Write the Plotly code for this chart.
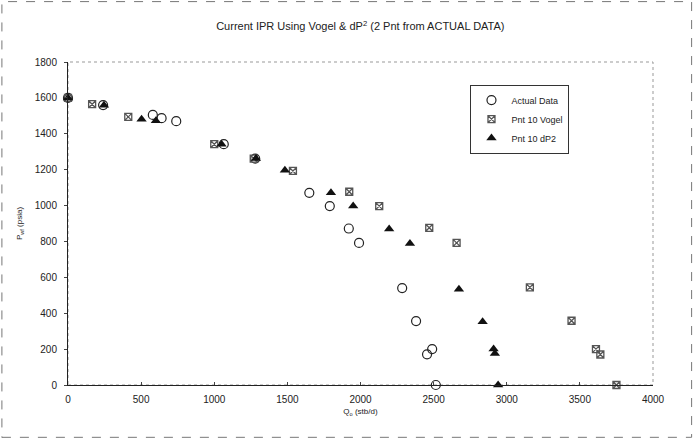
import plotly.graph_objects as go

# Actual data (circles)
actual_q = [0, 240, 580, 640, 740, 1065, 1280, 1650, 1790, 1920, 1990, 2285, 2380, 2455, 2490, 2515]
actual_p = [1600, 1560, 1505, 1487, 1470, 1342, 1262, 1071, 997, 872, 792, 540, 356, 171, 200, 0]

# Pnt 10 Vogel (squares)
vogel_q = [0, 165, 412, 1000, 1270, 1538, 1923, 2128, 2470, 2657, 3158, 3443, 3610, 3640, 3750]
vogel_p = [1600, 1565, 1494, 1342, 1262, 1193, 1077, 997, 876, 792, 544, 358, 200, 170, 0]

# Pnt 10 dP2 (triangles)
dp2_q = [0, 246, 503, 601, 1050, 1285, 1483, 1798, 1950, 2196, 2338, 2673, 2835, 2910, 2919, 2941]
dp2_p = [1600, 1559, 1481, 1472, 1342, 1262, 1197, 1071, 997, 869, 789, 534, 352, 200, 175, 0]

x_ticks = [0, 500, 1000, 1500, 2000, 2500, 3000, 3500, 4000]
y_ticks = [0, 200, 400, 600, 800, 1000, 1200, 1400, 1600, 1800]

FONT = "Liberation Sans Narrow, Arial Narrow, Liberation Sans, Arial, sans-serif"

fig = go.Figure()
fig.add_trace(go.Scatter(
    x=actual_q, y=actual_p, mode="markers", name="Actual Data",
    marker=dict(symbol="circle-open", size=9, color="#222", line=dict(width=1.2)),
    cliponaxis=False))
fig.add_trace(go.Scatter(
    x=vogel_q, y=vogel_p, mode="markers", name="Pnt 10 Vogel",
    marker=dict(symbol="square-x-open", size=7, color="#555", line=dict(width=1.3)),
    cliponaxis=False))
fig.add_trace(go.Scatter(
    x=dp2_q, y=dp2_p, mode="markers", name="Pnt 10 dP2",
    marker=dict(symbol="triangle-up", size=9, color="#111"),
    cliponaxis=False))

fig.update_layout(
    width=693, height=439,
    margin=dict(l=68, r=40, t=62, b=54),
    paper_bgcolor="white", plot_bgcolor="white",
    font=dict(family=FONT, size=10, color="#222"),
    title=dict(
        text="Current IPR Using Vogel &amp; dP<sup>2</sup> (2 Pnt from ACTUAL DATA)",
        x=0.52, xanchor="center", y=0.94, yanchor="middle",
        font=dict(family=FONT, size=11, color="#222")),
    showlegend=True,
    legend=dict(
        x=0.688, y=0.93, xanchor="left", yanchor="top",
        bgcolor="white", bordercolor="#333", borderwidth=1,
        font=dict(family=FONT, size=9, color="#222"),
        tracegroupgap=0, itemwidth=30),
    xaxis=dict(
        range=[0, 4000], tickvals=x_ticks, ticktext=[str(v) for v in x_ticks],
        showgrid=False, zeroline=False, showline=True, linecolor="#222", linewidth=1,
        ticks="inside", ticklen=3, tickcolor="#444",
        tickfont=dict(size=10), ticklabelstandoff=5,
        title=dict(text="Q<sub>o</sub> (stb/d)", font=dict(size=8), standoff=4)),
    yaxis=dict(
        range=[0, 1800], tickvals=y_ticks, ticktext=[str(v) for v in y_ticks],
        showgrid=False, zeroline=False, showline=True, linecolor="#222", linewidth=1,
        ticks="outside", ticklen=3, tickcolor="#444",
        tickfont=dict(size=10), ticklabelstandoff=5,
        title=dict(text="P<sub>wf</sub> (psia)", font=dict(size=8), standoff=10)),
    shapes=[
        dict(type="rect", xref="paper", yref="paper", x0=0, x1=1, y0=0, y1=1,
             line=dict(color="#999", width=1, dash="dot"), layer="below"),
        dict(type="rect", xref="paper", yref="paper",
             x0=-0.113, x1=1.066, y0=-0.162, y1=1.187,
             line=dict(color="#777", width=1, dash="dash"), layer="below"),
    ],
)

fig.write_html("out.html")
